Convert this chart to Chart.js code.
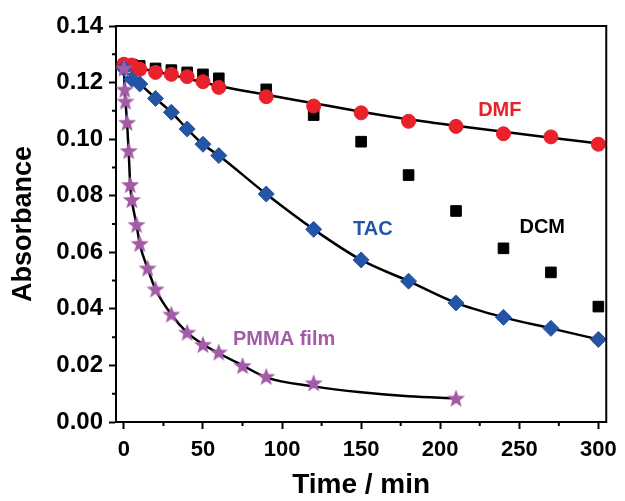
<!DOCTYPE html>
<html><head><meta charset="utf-8">
<script src="https://cdn.jsdelivr.net/npm/chart.js@4/dist/chart.umd.min.js"></script>
<style>html,body{margin:0;padding:0;background:#fff}</style>
</head><body>
<canvas id="c" width="625" height="501"></canvas>
<script>
// ---- data ----
const timeDCM = [0,5,10,20,30,40,50,60,90,120,150,180,210,240,270,300];
const absDCM  = [0.1262,0.1263,0.1259,0.1250,0.1244,0.1236,0.1229,0.1215,0.1176,0.1085,0.0991,0.0873,0.0746,0.0614,0.0529,0.0408];

const timeDMF = [0,5,10,20,30,40,50,60,90,120,150,180,210,240,270,300];
const absDMF  = [0.1265,0.1262,0.1247,0.1236,0.1229,0.1221,0.1203,0.1183,0.1150,0.1117,0.1093,0.1063,0.1045,0.1019,0.1008,0.0982];

const timeDMFfit = [0,30,60,90,120,150,180,210,240,270,300];
const absDMFfit  = [0.1262,0.1228,0.1188,0.1157,0.1127,0.1097,0.1070,0.1047,0.1026,0.1005,0.0985];

const timeTAC = [0,5,10,20,30,40,50,60,90,120,150,180,210,240,270,300];
const absTAC  = [0.1250,0.1212,0.1195,0.1144,0.1095,0.1036,0.0982,0.0942,0.0806,0.0681,0.0573,0.0498,0.0421,0.0370,0.0331,0.0292];

const timePMMA = [0,0.5,1,2,3,4,5,8,10,15,20,30,40,50,60,75,90,120,210];
const absPMMA  = [0.1250,0.1175,0.1133,0.1058,0.0958,0.0838,0.0785,0.0697,0.0630,0.0543,0.0469,0.0380,0.0316,0.0273,0.0246,0.0198,0.0160,0.0137,0.0083];

const timePMMAfit = [0,0.5,1,2,3,4,5,8,10,15,20,30,40,50,60,75,90,120,150,180,210];
const absPMMAfit  = [0.1250,0.1175,0.1133,0.1058,0.0958,0.0838,0.0785,0.0697,0.0630,0.0543,0.0469,0.0380,0.0316,0.0275,0.0243,0.0200,0.0158,0.0126,0.0105,0.0091,0.0084];

const xMajorTicks = [0,50,100,150,200,250,300];
const xMinorTicks = [25,75,125,175,225,275];
const yMajorTicks = [0.00,0.02,0.04,0.06,0.08,0.10,0.12,0.14];
const yMinorTicks = [0.01,0.03,0.05,0.07,0.09,0.11,0.13];

// ---- styles ----
const RED = '#e8212b', BLUE = '#2454a6', PURPLE = '#a35ba8';
const FONT = "'Liberation Sans', Arial, sans-serif";

const annotations = [
  {text:'DMF', t:237.7, v:0.1101, color:RED},
  {text:'TAC', t:157.4, v:0.0679, color:BLUE},
  {text:'DCM', t:264.5, v:0.0688, color:'#000'},
  {text:'PMMA film', t:101.3, v:0.0290, color:PURPLE}
];

function pts(xs, ys){ return xs.map((x,i)=>({x:x, y:ys[i]})); }

// filled five-point star marker
const star = document.createElement('canvas');
star.width = 20; star.height = 20;
(function(){
  const c = star.getContext('2d');
  c.fillStyle = PURPLE;
  c.beginPath();
  for (let i=0;i<10;i++){
    const r = i%2===0 ? 9.5 : 4;
    const a = -Math.PI/2 + i*Math.PI/5;
    const px = 10 + r*Math.cos(a), py = 10.5 + r*Math.sin(a);
    if (i===0) c.moveTo(px,py); else c.lineTo(px,py);
  }
  c.closePath(); c.fill();
})();

const framePlugin = {
  id:'frame',
  afterDraw(chart){
    const {ctx, chartArea:a, scales:{x,y}} = chart;
    ctx.save();
    ctx.strokeStyle='#000'; ctx.lineWidth=2; ctx.lineCap='square';
    ctx.beginPath();
    ctx.moveTo(a.left, a.top); ctx.lineTo(a.right, a.top); ctx.lineTo(a.right, a.bottom);
    ctx.stroke();
    ctx.lineCap='butt';
    ctx.beginPath();
    xMinorTicks.forEach(v=>{const px=x.getPixelForValue(v); ctx.moveTo(px,a.bottom); ctx.lineTo(px,a.bottom+4);});
    yMinorTicks.forEach(v=>{const py=y.getPixelForValue(v); ctx.moveTo(a.left,py); ctx.lineTo(a.left-4,py);});
    ctx.stroke();
    ctx.font = 'bold 20px ' + FONT;
    ctx.textAlign='center'; ctx.textBaseline='middle';
    annotations.forEach(an=>{
      ctx.fillStyle = an.color;
      ctx.fillText(an.text, x.getPixelForValue(an.t), y.getPixelForValue(an.v));
    });
    ctx.restore();
  }
};

const fitStyle = {showLine:true, pointRadius:0, borderColor:'#000', borderWidth:2.5, cubicInterpolationMode:'monotone', order:10};

new Chart(document.getElementById('c'), {
  type:'scatter',
  data:{datasets:[
    Object.assign({label:'DMF fit', data:pts(timeDMFfit, absDMFfit)}, fitStyle),
    Object.assign({label:'TAC fit', data:pts(timeTAC, absTAC)}, fitStyle),
    Object.assign({label:'PMMA fit', data:pts(timePMMAfit, absPMMAfit)}, fitStyle),
    {label:'DCM', data:pts(timeDCM, absDCM), pointStyle:'rect', pointRadius:7.5, pointBackgroundColor:'#000', pointBorderColor:'#000', pointBorderWidth:1, order:4, clip:false},
    {label:'DMF', data:pts(timeDMF, absDMF), pointStyle:'circle', pointRadius:7, pointBackgroundColor:RED, pointBorderColor:RED, pointBorderWidth:1, order:3, clip:false},
    {label:'TAC', data:pts(timeTAC, absTAC), pointStyle:'rectRot', pointRadius:8, pointBackgroundColor:BLUE, pointBorderColor:BLUE, pointBorderWidth:1, order:2, clip:false},
    {label:'PMMA film', data:pts(timePMMA, absPMMA), pointStyle:star, order:1, clip:false}
  ]},
  options:{
    responsive:false, animation:false,
    layout:{padding:{top:26, right:18, left:0, bottom:0}},
    plugins:{legend:{display:false}, tooltip:{enabled:false}},
    scales:{
      x:{
        type:'linear', min:-5, max:305,
        afterBuildTicks(s){ s.ticks = xMajorTicks.map(v=>({value:v})); },
        ticks:{color:'#000', font:{family:FONT, size:22, weight:'bold'}, padding:8, maxRotation:0},
        grid:{drawOnChartArea:false, drawTicks:true, tickLength:7, tickColor:'#000', tickWidth:2},
        border:{color:'#000', width:2},
        title:{display:true, text:'Time / min', color:'#000', font:{family:FONT, size:28, weight:'bold', lineHeight:1}, padding:{top:0, bottom:2}},
        afterFit(s){ s.height = 79; }
      },
      y:{
        type:'linear', min:0, max:0.14,
        afterBuildTicks(s){ s.ticks = yMajorTicks.map(v=>({value:v})); },
        ticks:{color:'#000', font:{family:FONT, size:24, weight:'bold'}, padding:6, callback:v=>Number(v).toFixed(2)},
        grid:{drawOnChartArea:false, drawTicks:true, tickLength:7, tickColor:'#000', tickWidth:2},
        border:{color:'#000', width:2},
        title:{display:true, text:'Absorbance', color:'#000', font:{family:FONT, size:27, weight:'bold', lineHeight:1}, padding:{top:10, bottom:0}},
        afterFit(s){ s.width = 116; }
      }
    }
  },
  plugins:[framePlugin]
});
</script>
</body></html>
